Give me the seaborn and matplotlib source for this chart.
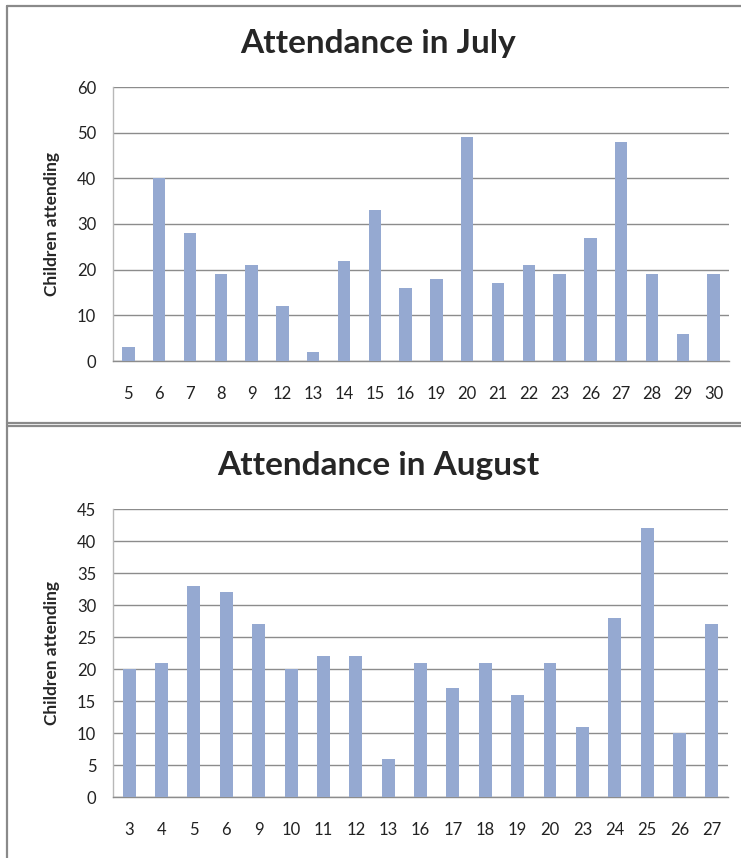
import matplotlib
matplotlib.use('Agg')
import matplotlib.pyplot as plt
from matplotlib.lines import Line2D
import seaborn as sns
import pandas as pd


july_days = ['5', '6', '7', '8', '9', '12', '13', '14', '15', '16',
             '19', '20', '21', '22', '23', '26', '27', '28', '29', '30']
july_counts = [3, 40, 28, 19, 21, 12, 2, 22, 33, 16,
               18, 49, 17, 21, 19, 27, 48, 19, 6, 19]

aug_days = ['3', '4', '5', '6', '9', '10', '11', '12', '13', '16',
            '17', '18', '19', '20', '23', '24', '25', '26', '27']
aug_counts = [20, 21, 33, 32, 27, 20, 22, 22, 6, 21,
              17, 21, 16, 21, 11, 28, 42, 10, 27]

bar_color = '#95A9D1'
grid_color = '#8c8c8c'

sns.set_style('white')
plt.rcParams['font.family'] = ['Lato', 'DejaVu Sans']

W, H = 741, 858
fig = plt.figure(figsize=(W / 100, H / 100), dpi=100)


def px_rect(left, top, right, bottom):
    return [left / W, 1 - bottom / H, (right - left) / W, (bottom - top) / H]


def draw_panel(rect, days, counts, title, ymax, ystep, title_y):
    ax = fig.add_axes(rect)
    df = pd.DataFrame({'day': days, 'count': counts})
    sns.barplot(data=df, x='day', y='count', order=days, color=bar_color,
                width=0.4, saturation=1, edgecolor='none', ax=ax, zorder=3)
    ax.set_ylim(0, ymax)
    ax.set_yticks(range(0, ymax + 1, ystep))
    ax.set_xlim(-0.5, len(days) - 0.5)
    ax.yaxis.grid(True, color=grid_color, linewidth=1.0, zorder=0)
    ax.set_axisbelow(True)
    for s in ['top', 'right']:
        ax.spines[s].set_visible(False)
    ax.spines['left'].set_color('#b8b8b8')
    ax.spines['bottom'].set_color(grid_color)
    ax.spines['left'].set_linewidth(1.0)
    ax.spines['bottom'].set_linewidth(1.0)
    ax.tick_params(axis='x', length=0, pad=18, labelsize=12, colors='#222222')
    ax.tick_params(axis='y', length=0, pad=12, labelsize=12, colors='#222222')
    ax.set_xlabel('')
    ax.set_ylabel('Children attending', fontsize=12.5, fontweight='bold', labelpad=12)
    fig.text(378 / W, 1 - title_y / H, title, ha='center', va='center',
             fontsize=24, fontweight='bold')
    return ax


draw_panel(px_rect(113, 87, 729, 361), july_days, july_counts,
           'Attendance in July', 60, 10, 43)
draw_panel(px_rect(113, 509, 728, 797), aug_days, aug_counts,
           'Attendance in August', 45, 5, 465)

# panel borders
border = dict(color='#8a8a8a', linewidth=1.6, transform=fig.transFigure)
fig.add_artist(Line2D([7 / W, 1], [1 - 6 / H, 1 - 6 / H], **border))
fig.add_artist(Line2D([7 / W, 7 / W], [0, 1 - 6 / H], **border))
fig.add_artist(Line2D([7 / W, 1], [1 - 423 / H, 1 - 423 / H], **border))
fig.add_artist(Line2D([7 / W, 1], [1 - 426 / H, 1 - 426 / H], **border))

fig.savefig('out.png', dpi=100)
